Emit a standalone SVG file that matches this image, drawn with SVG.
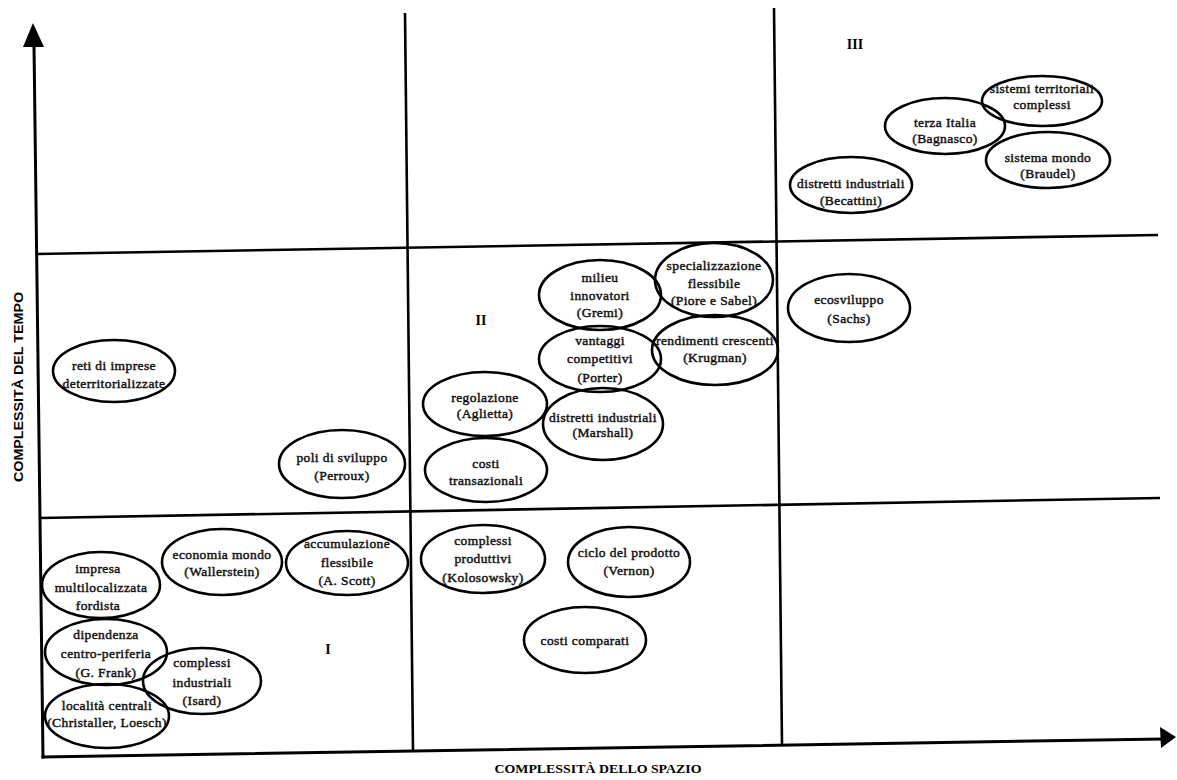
<svg xmlns="http://www.w3.org/2000/svg" width="1177" height="780" viewBox="0 0 1177 780">
<style>
.bg{fill:#fff}
.ax{stroke:#000;stroke-width:3;fill:none;stroke-linecap:square}
.gl{stroke:#000;stroke-width:2.6;fill:none}
.el{fill:none;stroke:#000;stroke-width:2.6}
.t{font-family:"Liberation Serif","Times New Roman",serif;font-size:13.5px;letter-spacing:0.4px;fill:#111;stroke:#111;stroke-width:0.45;text-anchor:middle}
.q{font-family:"Liberation Serif","Times New Roman",serif;font-size:14px;font-weight:bold;fill:#000;text-anchor:middle}
.yl{font-family:"Liberation Sans",Arial,sans-serif;font-size:13px;font-weight:bold;fill:#000;text-anchor:middle}
.xl{font-family:"Liberation Serif","Times New Roman",serif;font-size:12.5px;font-weight:bold;fill:#000;text-anchor:middle}
</style>
<rect class="bg" x="0" y="0" width="1177" height="780"/>
<g id="axes">
<line class="ax" x1="34" y1="45" x2="43" y2="757"/>
<polygon points="33,23 23,47 44,47" fill="#000"/>
<line class="ax" x1="43" y1="757" x2="1162" y2="739"/>
<polygon points="1176,737 1160,727 1161,748" fill="#000"/>
<line class="gl" x1="405" y1="13" x2="413" y2="752"/>
<line class="gl" x1="774" y1="8" x2="782" y2="745"/>
<line class="gl" x1="36" y1="254" x2="1158" y2="235"/>
<line class="gl" x1="40" y1="518" x2="1160" y2="498"/>
<text class="yl" transform="translate(23,387) rotate(-90)" textLength="190" lengthAdjust="spacingAndGlyphs">COMPLESSITÀ DEL TEMPO</text>
<text class="xl" x="598" y="773" textLength="207" lengthAdjust="spacingAndGlyphs">COMPLESSITÀ DELLO SPAZIO</text>
<text class="q" x="855" y="49">III</text>
<text class="q" x="481" y="325">II</text>
<text class="q" x="328" y="654">I</text>
</g>
<g id="connectors"></g>
<g id="n-sistemi"><ellipse class="el" cx="1042" cy="101" rx="60" ry="25"/><text class="t" x="1042" y="93">sistemi territoriali</text><text class="t" x="1042" y="109">complessi</text></g>
<g id="n-terza"><ellipse class="el" cx="945" cy="126" rx="60" ry="28"/><text class="t" x="945" y="127">terza Italia</text><text class="t" x="945" y="143">(Bagnasco)</text></g>
<g id="n-braudel"><ellipse class="el" cx="1048" cy="160" rx="62" ry="28"/><text class="t" x="1048" y="162">sistema mondo</text><text class="t" x="1048" y="178">(Braudel)</text></g>
<g id="n-becattini"><ellipse class="el" cx="851" cy="185" rx="61" ry="28"/><text class="t" x="851" y="188">distretti industriali</text><text class="t" x="851" y="205">(Becattini)</text></g>
<g id="n-sachs"><ellipse class="el" cx="849" cy="308" rx="61" ry="34"/><text class="t" x="849" y="304">ecosviluppo</text><text class="t" x="849" y="323">(Sachs)</text></g>
<g id="n-gremi"><ellipse class="el" cx="600" cy="295" rx="61" ry="35"/><text class="t" x="600" y="282">milieu</text><text class="t" x="600" y="300">innovatori</text><text class="t" x="600" y="317">(Gremi)</text></g>
<g id="n-piore"><ellipse class="el" cx="714" cy="280" rx="59" ry="37"/><text class="t" x="714" y="270">specializzazione</text><text class="t" x="714" y="288">flessibile</text><text class="t" x="714" y="305">(Piore e Sabel)</text></g>
<g id="n-porter"><ellipse class="el" cx="600" cy="359" rx="61" ry="33"/><text class="t" x="600" y="345">vantaggi</text><text class="t" x="600" y="363">competitivi</text><text class="t" x="600" y="382">(Porter)</text></g>
<g id="n-krugman"><ellipse class="el" cx="715" cy="350" rx="63" ry="35"/><text class="t" x="715" y="345">rendimenti crescenti</text><text class="t" x="715" y="362">(Krugman)</text></g>
<g id="n-aglietta"><ellipse class="el" cx="485" cy="404" rx="62" ry="32"/><text class="t" x="485" y="402">regolazione</text><text class="t" x="485" y="418">(Aglietta)</text></g>
<g id="n-marshall"><ellipse class="el" cx="603" cy="424" rx="60" ry="36"/><text class="t" x="603" y="422">distretti industriali</text><text class="t" x="603" y="437">(Marshall)</text></g>
<g id="n-transazionali"><ellipse class="el" cx="486" cy="470" rx="61" ry="32"/><text class="t" x="486" y="468">costi</text><text class="t" x="486" y="485">transazionali</text></g>
<g id="n-reti"><ellipse class="el" cx="114" cy="371" rx="61" ry="31"/><text class="t" x="114" y="370">reti di imprese</text><text class="t" x="114" y="388">deterritorializzate</text></g>
<g id="n-perroux"><ellipse class="el" cx="342" cy="464" rx="63" ry="34"/><text class="t" x="342" y="462">poli di sviluppo</text><text class="t" x="342" y="480">(Perroux)</text></g>
<g id="n-wallerstein"><ellipse class="el" cx="222" cy="562" rx="60" ry="33"/><text class="t" x="222" y="559">economia mondo</text><text class="t" x="222" y="576">(Wallerstein)</text></g>
<g id="n-scott"><ellipse class="el" cx="347" cy="563" rx="61" ry="32"/><text class="t" x="347" y="548">accumulazione</text><text class="t" x="347" y="567">flessibile</text><text class="t" x="347" y="585">(A. Scott)</text></g>
<g id="n-impresa"><ellipse class="el" cx="101" cy="585" rx="59" ry="33"/><text class="t" x="98" y="573">impresa</text><text class="t" x="101" y="592">multilocalizzata</text><text class="t" x="98" y="610">fordista</text></g>
<g id="n-frank"><ellipse class="el" cx="106" cy="652" rx="61" ry="33"/><text class="t" x="106" y="639">dipendenza</text><text class="t" x="106" y="658">centro-periferia</text><text class="t" x="106" y="677">(G. Frank)</text></g>
<g id="n-isard"><ellipse class="el" cx="202" cy="681" rx="59" ry="33"/><text class="t" x="202" y="667">complessi</text><text class="t" x="202" y="687">industriali</text><text class="t" x="202" y="705">(Isard)</text></g>
<g id="n-christaller"><ellipse class="el" cx="107" cy="716" rx="62" ry="32"/><text class="t" x="107" y="710">località centrali</text><text class="t" x="107" y="727">(Christaller, Loesch)</text></g>
<g id="n-kolosowsky"><ellipse class="el" cx="483" cy="559" rx="62" ry="34"/><text class="t" x="483" y="545">complessi</text><text class="t" x="483" y="563">produttivi</text><text class="t" x="483" y="582">(Kolosowsky)</text></g>
<g id="n-vernon"><ellipse class="el" cx="629" cy="562" rx="61" ry="35"/><text class="t" x="629" y="557">ciclo del prodotto</text><text class="t" x="629" y="575">(Vernon)</text></g>
<g id="n-comparati"><ellipse class="el" cx="585" cy="640" rx="61" ry="33"/><text class="t" x="585" y="645">costi comparati</text></g>
</svg>
